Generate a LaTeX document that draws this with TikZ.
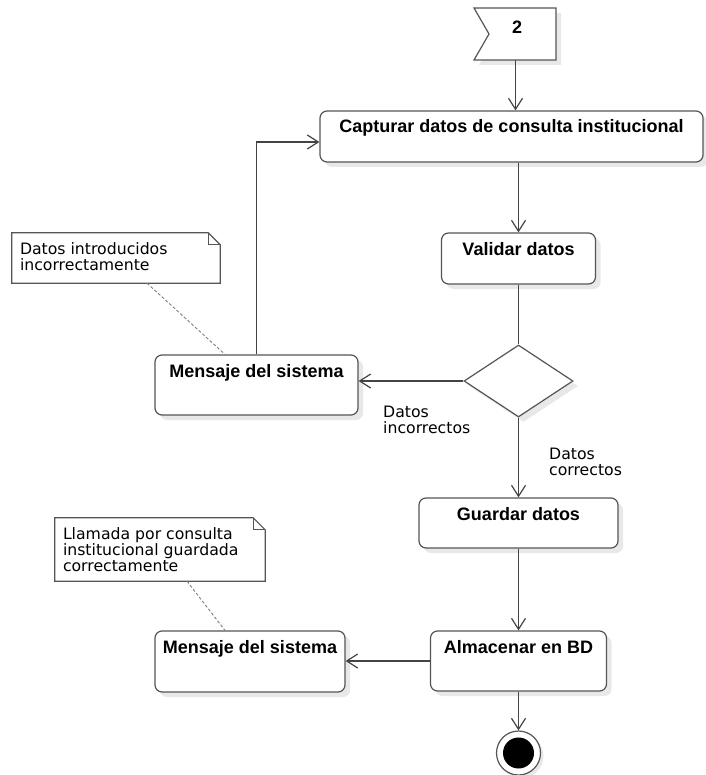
\documentclass[tikz,border=0pt]{standalone}
\usepackage{fontspec}
\setmainfont{Liberation Sans}
\newfontfamily\notefont{DejaVu Sans}
\usetikzlibrary{arrows.meta,shapes.geometric,shadows,calc}
\definecolor{linec}{HTML}{555555}
\definecolor{arrc}{HTML}{444444}
\begin{document}
\begin{tikzpicture}[x=1pt,y=-1pt,
  shade9/.style={drop shadow={shadow xshift=5pt, shadow yshift=-5pt, fill=black!9, opacity=1}},
  act/.style={draw=linec, line width=1.2pt, rounded corners=7pt, fill=white, inner xsep=0pt, inner ysep=0pt, text height=22pt, font=\bfseries\fontsize{18pt}{20pt}\selectfont, shade9},
  flow/.style={draw=arrc, line width=1.2pt, -{Straight Barb[length=11pt,width=14pt]}},
  plain/.style={draw=arrc, line width=1.2pt},
  notetext/.style={font=\notefont\fontsize{15.7pt}{16pt}\selectfont, align=left, inner sep=0pt, anchor=base west},
  notebox/.style={draw=none, inner sep=0pt},
  noteline/.style={draw=linec, line width=1.2pt, fill=white},
  anchorline/.style={draw=gray, line width=0.9pt, dash pattern=on 3pt off 2pt},
]
\useasboundingbox (0,0) rectangle (705,775);
\fill[white] (0,0) rectangle (705,775);

% flag (receive signal "2")
\fill[black!9] (479,13) -- (561,13) -- (561,65) -- (479,65) -- (494,39) -- cycle;
\draw[noteline] (474,8) -- (556,8) -- (556,60) -- (474,60) -- (489,34) -- cycle;
\node[font=\bfseries\fontsize{18pt}{20pt}\selectfont, inner sep=0pt] (flag) at (517,27) {2};
\coordinate (flagbot) at (515.5,60);

% activities
\node[act, minimum width=383pt, text depth=29pt] (cap) at (511.5,136.5) {Capturar datos de consulta institucional};
\node[act, minimum width=154pt, text depth=29pt] (val) at (518.5,258.5) {Validar datos};
\node[act, minimum width=203pt, text depth=38pt] (msg1) at (256.5,385) {Mensaje del sistema};
\node[act, minimum width=199pt, text depth=28pt] (guard) at (518.5,523) {Guardar datos};
\node[act, minimum width=176pt, text depth=38pt] (alm) at (518.5,661) {Almacenar en BD};
\node[act, minimum width=190pt, text depth=39pt] (msg2) at (250,661.5) {Mensaje del sistema};

% decision
\node[diamond, draw=linec, line width=1.2pt, fill=white, inner sep=0pt, shape aspect=1.5,
      minimum width=109pt, minimum height=72pt, shade9] (dia) at (518.5,381) {};

% final node
\node[circle, draw=linec, line width=1.2pt, fill=white, minimum size=44pt, inner sep=0pt,
      drop shadow={shadow xshift=3pt, shadow yshift=-3pt, fill=black!9, opacity=1}] (fin) at (518.5,753) {};
\node[circle, fill=black, minimum size=31pt, inner sep=0pt] (fininner) at (fin.center) {};

% notes
\node[notebox, minimum width=208pt, minimum height=50pt] (n1) at (116,258) {};
\draw[noteline] (n1.north west) -- ([xshift=-12pt]n1.north east) -- ([yshift=-12pt]n1.north east) -- (n1.south east) -- (n1.south west) -- cycle;
\draw[linec, line width=1pt] ([xshift=-12pt]n1.north east) |- ([yshift=-12pt]n1.north east);
\node[notetext] (t1) at ([xshift=8pt,yshift=-38pt]n1.north west) {Datos introducidos\\incorrectamente};

\node[notebox, minimum width=210pt, minimum height=63pt] (n2) at (160,549.5) {};
\draw[noteline] (n2.north west) -- ([xshift=-12pt]n2.north east) -- ([yshift=-12pt]n2.north east) -- (n2.south east) -- (n2.south west) -- cycle;
\draw[linec, line width=1pt] ([xshift=-12pt]n2.north east) |- ([yshift=-12pt]n2.north east);
\node[notetext] (t2) at ([xshift=8pt,yshift=-54pt]n2.north west) {Llamada por consulta\\institucional guardada\\correctamente};

\draw[anchorline] ([xshift=31pt]n1.south) -- ([xshift=-31.5pt]msg1.north);
\draw[anchorline] ([xshift=27pt]n2.south) -- ([xshift=-25pt]msg2.north);

% guard labels
\node[notetext] (lin) at (383,433) {Datos\\incorrectos};
\node[notetext] (lco) at (549,475) {Datos\\correctos};

% flows
\draw[flow] (flagbot) -- (flagbot |- cap.north);
\draw[flow] (cap.south -| val.north) -- (val.north);
\draw[plain] (val.south) -- (val.south |- dia.north);
\draw[flow] (dia.west) -- (dia.west -| msg1.east);
\draw[flow] (msg1.north) |- ([yshift=-5.5pt]cap.west);
\draw[flow] (dia.south) -- (dia.south |- guard.north);
\draw[flow] (guard.south) -- (guard.south |- alm.north);
\draw[flow] (alm.west) -- (alm.west -| msg2.east);
\draw[flow] (alm.south) -- (fin.north);
\end{tikzpicture}
\end{document}
